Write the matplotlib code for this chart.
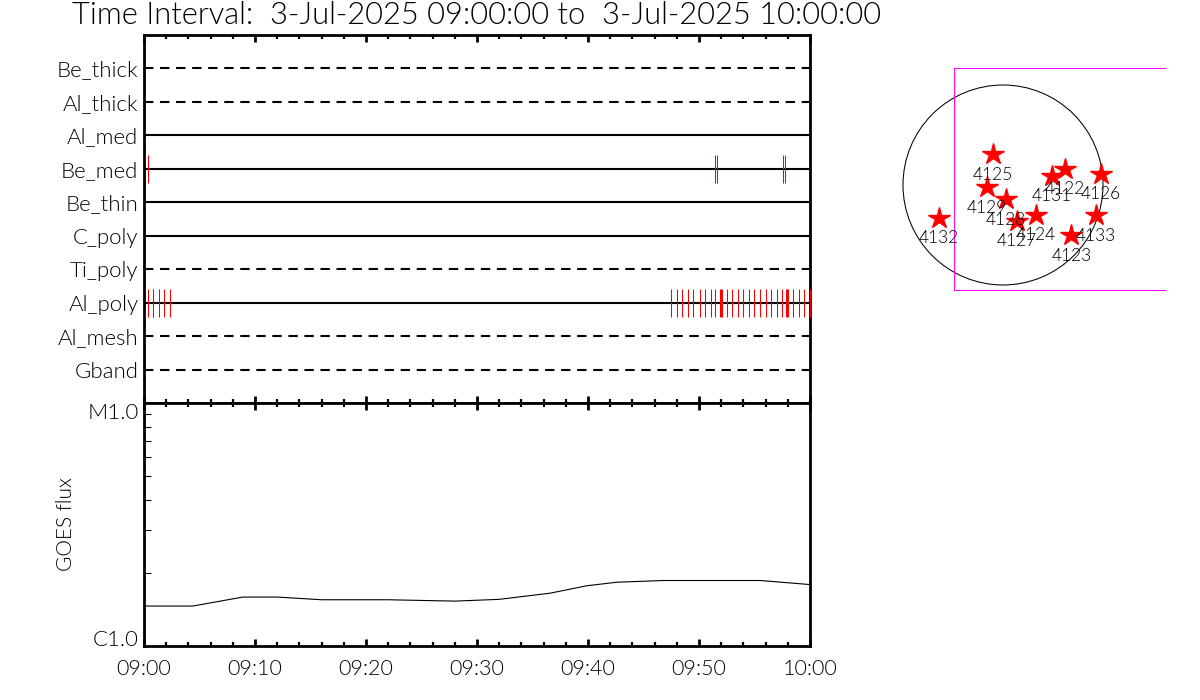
# lib data visualizations
import numpy as np
import matplotlib
matplotlib.use("Agg")
import matplotlib.pyplot as plt
from matplotlib.patches import Circle
# ----------------------------------------------------------------------------------------

# filter rows, top to bottom
filters = ["Be_thick", "Al_thick", "Al_med", "Be_med", "Be_thin",
           "C_poly", "Ti_poly", "Al_poly", "Al_mesh", "Gband"]
solid_rows = ["Al_med", "Be_med", "Be_thin", "C_poly", "Al_poly"]

# exposure times, minutes after 09:00
be_med_times = [0.39, 51.47, 51.65, 57.54, 57.72]
al_poly_times = [0.39, 0.77, 0.84, 1.38, 1.83, 2.37,
                 47.5, 48.05, 48.5, 49.05, 49.5, 50.05, 50.5, 51.05, 51.47,
                 51.92, 52.0, 52.08, 52.55, 53.0, 53.54, 53.99, 54.53, 54.98,
                 55.52, 56.06, 56.51, 57.05, 57.5, 57.85, 57.93, 58.0, 58.5,
                 59.04, 59.49, 59.98]

# GOES curve
goes_minutes = [0, 4.4, 8.9, 12, 16, 22, 28, 32, 36.6, 39.9, 42.6, 46.8, 55.5, 60]
goes_flux = [1.46e-6, 1.46e-6, 1.59e-6, 1.59e-6, 1.55e-6, 1.55e-6, 1.53e-6,
             1.556e-6, 1.65e-6, 1.77e-6, 1.83e-6, 1.86e-6, 1.86e-6, 1.79e-6]

tick_labels = ["09:00", "09:10", "09:20", "09:30", "09:40", "09:50", "10:00"]

# active regions on the disc, arcsec from sun centre
regions = ["4125", "4129", "4128", "4127", "4124", "4131",
           "4122", "4126", "4133", "4123", "4132"]
region_x = [-99, -157, 26, 131, 314, 468, 595, 941, 890, 656, -617]
region_y = [295, -22, -137, -343, -285, 86, 156, 106, -291, -483, -317]

# fov box and limb, arcsec
solar_radius = 960
box_x = [-470, 1555]
box_y = [-1005, 1120]
# ----------------------------------------------------------------------------------------

W, H = 1200, 700
plt.rcParams["font.family"] = "Lato"
plt.rcParams["font.weight"] = 300
plt.rcParams["axes.labelweight"] = 300
fig = plt.figure(figsize=(W / 100, H / 100), dpi=100)

def px_axes(x0, y0, x1, y1):
    return fig.add_axes([x0 / W, 1 - y1 / H, (x1 - x0) / W, (y1 - y0) / H])

# top panel
ax = px_axes(144, 35, 810, 403)
rows = np.arange(len(filters))[::-1]
for name, r in zip(filters, rows):
    ls = "-" if name in solid_rows else (0, (4.5, 3.2))
    ax.plot([0, 60], [r, r], color="k", lw=1.5, ls=ls, zorder=2)
row_be = rows[filters.index("Be_med")]
row_al = rows[filters.index("Al_poly")]
ax.vlines(be_med_times, row_be - 0.42, row_be + 0.42, color="red", lw=0.75, zorder=3)
ax.vlines(al_poly_times, row_al - 0.42, row_al + 0.42, color="red", lw=0.75, zorder=3, clip_on=False)
ax.set_xlim(0, 60)
ax.set_ylim(-1, 10)
ax.set_yticks(rows)
ax.set_yticklabels(filters, fontsize=16, va="center_baseline")
ax.tick_params(axis="y", length=0, pad=4)
ax.set_xticks(np.arange(0, 61, 10))
ax.set_xticks(np.arange(0, 61, 2), minor=True)
ax.tick_params(axis="x", which="major", direction="in", length=5, width=2, top=True, bottom=True, labelbottom=False)
ax.tick_params(axis="x", which="minor", direction="in", length=3, width=1.6, top=True, bottom=True)
for s in ax.spines.values():
    s.set_linewidth(2)

# goes panel
ax2 = px_axes(144, 403, 810, 646)
ax2.plot(goes_minutes, goes_flux, color="k", lw=0.8)
ax2.set_xlim(0, 60)
ax2.set_yscale("log")
ax2.set_ylim(1e-6, 1e-5)
ax2.set_xticks(np.arange(0, 61, 10))
ax2.set_xticklabels(tick_labels, fontsize=15.5)
ax2.set_xticks(np.arange(0, 61, 2), minor=True)
ax2.tick_params(axis="x", which="major", direction="in", length=5, width=2, top=True, pad=9.5)
ax2.tick_params(axis="x", which="minor", direction="in", length=3, width=1.6, top=True)
ax2.set_yticks([1e-6, 1e-5])
ax2.set_yticklabels(["C1.0", "M1.0"], fontsize=16)
ax2.set_yticks(np.arange(2, 10) * 1e-6, minor=True)
ax2.set_yticklabels([], minor=True)
ax2.tick_params(axis="y", which="major", length=0, pad=4)
ax2.tick_params(axis="y", which="minor", direction="in", length=5.2, width=0.8)
for lab, va in zip(ax2.get_yticklabels(), ["baseline", "top"]):
    lab.set_va(va)
for s in ax2.spines.values():
    s.set_linewidth(2)
ax2.set_ylabel("GOES flux", fontsize=15, labelpad=8)

# title
fig.text(72 / W, 1 - 15 / H, "Time Interval:  3-Jul-2025 09:00:00 to  3-Jul-2025 10:00:00",
         fontsize=22.2, va="center", ha="left")

# sun map, 9.6 arcsec per pixel around (1003, 185)
ax3 = px_axes(890, 50, 1180, 300)
scale = 9.6
ax3.set_xlim((890 - 1003) * scale, (1180 - 1003) * scale)
ax3.set_ylim((185 - 300) * scale, (185 - 50) * scale)
ax3.axis("off")
ax3.add_patch(Circle((0, 0), solar_radius, fill=False, ec="k", lw=0.75))
ax3.plot([box_x[1], box_x[0], box_x[0], box_x[1]],
         [box_y[1], box_y[1], box_y[0], box_y[0]], color="magenta", lw=0.75)
ax3.plot(region_x, region_y, ls="none", marker="*", ms=16, color="red", mec="red", zorder=3)
for name, x, y in zip(regions, region_x, region_y):
    ax3.text(x, y - 195, name, fontsize=12.5, ha="center", va="center", color="k", zorder=4)

plt.savefig("out.png", dpi=100)
# ----------------------------------------------------------------------------------------
